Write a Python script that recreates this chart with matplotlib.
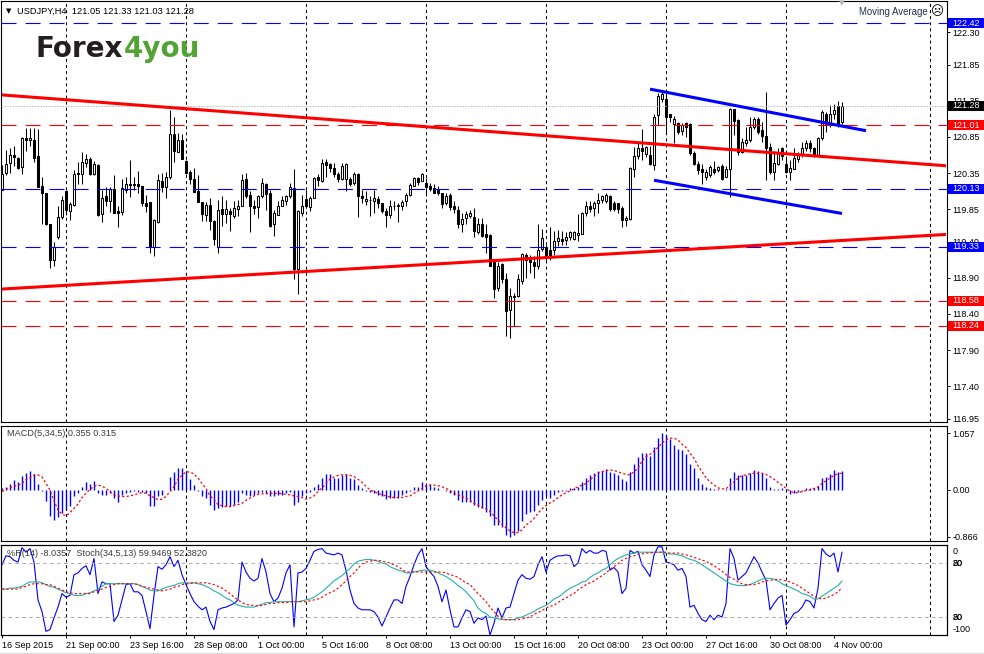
import numpy as np
import matplotlib
matplotlib.use("Agg")
import matplotlib.pyplot as plt
from matplotlib.patches import Rectangle
from matplotlib.lines import Line2D
from matplotlib.transforms import blended_transform_factory

plt.rcParams['font.family'] = ['Liberation Sans', 'DejaVu Sans']
plt.rcParams['lines.scale_dashes'] = False

W, H = 984, 654

# ---- USDJPY H4 candles (bar 0 = 16 Sep 2015 08:00) ----
opens = [
    120.12, 120.35, 120.49, 120.60, 120.56, 120.43, 120.83, 120.81, 120.81, 120.58,
    120.17, 120.07, 119.64, 119.15, 119.47, 119.74, 120.10, 119.83, 119.91, 120.35,
    120.34, 120.49, 120.54, 120.34, 120.46, 119.78, 120.03, 119.96, 120.13, 119.82,
    119.81, 120.12, 120.20, 120.20, 120.20, 120.17, 119.93, 119.95, 119.32, 119.67,
    120.24, 120.16, 120.30, 120.89, 120.64, 120.81, 120.51, 120.37, 120.27, 120.10,
    119.95, 119.77, 119.91, 119.68, 119.33, 119.85, 119.78, 119.83, 119.76, 119.85,
    119.89, 120.27, 120.05, 119.90, 119.88, 120.03, 120.20, 120.07, 119.64, 119.77,
    119.90, 119.96, 120.03, 120.14, 119.02, 119.80, 119.99, 119.88, 120.01, 120.29,
    120.24, 120.50, 120.47, 120.42, 120.34, 120.27, 120.27, 120.27, 120.21, 120.33,
    120.03, 119.96, 119.97, 119.96, 119.99, 119.93, 119.82, 119.77, 119.89, 119.90,
    119.90, 119.96, 120.04, 120.17, 120.28, 120.24, 120.21, 120.17, 120.14, 120.12,
    120.07, 119.93, 120.04, 119.90, 119.84, 119.65, 119.73, 119.75, 119.74, 119.53,
    119.65, 119.50, 119.49, 119.16, 118.76, 119.09, 118.89, 118.45, 118.64, 118.65,
    118.85, 119.22, 119.16, 119.12, 119.07, 119.30, 119.32, 119.29, 119.29, 119.41,
    119.44, 119.43, 119.47, 119.44, 119.49, 119.51, 119.79, 119.89, 119.87, 119.93,
    119.97, 119.96, 120.03, 119.94, 119.94, 119.87, 119.70, 119.71, 120.41, 120.58,
    120.69, 120.61, 120.60, 120.46, 121.15, 121.38, 121.38, 121.16, 121.03, 121.04,
    120.93, 121.04, 121.03, 120.62, 120.48, 120.41, 120.30, 120.32, 120.41, 120.39,
    120.44, 120.30, 120.41, 121.23, 121.08, 120.64, 120.77, 120.80, 120.99, 121.10,
    120.94, 120.86, 120.71, 120.36, 120.48, 120.69, 120.48, 120.36, 120.41, 120.55,
    120.60, 120.69, 120.76, 120.69, 120.60, 120.83, 121.17, 121.04, 121.17, 121.27,
    121.05]

highs = [
    120.46, 120.67, 120.70, 120.72, 120.57, 120.85, 120.97, 120.97, 120.97, 120.96,
    120.30, 120.07, 119.64, 119.40, 119.90, 120.03, 120.11, 119.95, 120.39, 120.50,
    120.64, 120.61, 120.57, 120.52, 120.47, 120.11, 120.16, 120.16, 120.32, 119.90,
    120.27, 120.29, 120.53, 120.29, 120.38, 120.17, 120.04, 119.95, 119.72, 120.34,
    120.35, 120.37, 121.22, 121.13, 120.90, 120.89, 120.53, 120.39, 120.42, 120.32,
    119.95, 119.95, 120.01, 119.70, 119.98, 120.03, 119.98, 119.86, 119.96, 119.98,
    120.33, 120.35, 120.10, 119.98, 120.05, 120.28, 120.21, 120.12, 119.84, 119.96,
    120.03, 120.05, 120.21, 120.40, 119.84, 120.05, 120.12, 120.03, 120.30, 120.33,
    120.54, 120.55, 120.49, 120.49, 120.37, 120.49, 120.49, 120.30, 120.37, 120.35,
    120.12, 120.10, 120.03, 120.12, 120.03, 119.94, 119.87, 119.98, 119.96, 119.94,
    119.98, 120.07, 120.21, 120.30, 120.30, 120.35, 120.28, 120.21, 120.20, 120.17,
    120.08, 120.08, 120.08, 119.96, 119.89, 119.80, 119.82, 119.84, 119.87, 119.73,
    119.73, 119.64, 119.50, 119.16, 119.12, 119.11, 118.97, 118.76, 118.69, 118.95,
    119.25, 119.25, 119.22, 119.20, 119.65, 119.57, 119.36, 119.61, 119.55, 119.56,
    119.55, 119.53, 119.55, 119.55, 119.78, 119.81, 119.96, 119.96, 119.96, 120.08,
    120.05, 120.08, 120.04, 119.96, 119.94, 119.89, 119.76, 120.43, 120.71, 120.76,
    120.96, 120.73, 120.73, 121.16, 121.45, 121.47, 121.45, 121.17, 121.14, 121.06,
    121.04, 121.06, 121.04, 120.66, 120.52, 120.48, 120.41, 120.46, 120.52, 120.44,
    120.48, 120.44, 121.25, 121.24, 121.09, 120.83, 120.99, 121.12, 121.13, 121.13,
    121.06, 121.47, 120.76, 120.66, 120.69, 120.71, 120.57, 120.53, 120.69, 120.64,
    120.78, 120.80, 120.81, 120.71, 120.85, 121.22, 121.19, 121.29, 121.31, 121.35,
    121.33]

lows = [
    120.12, 120.32, 120.35, 120.44, 120.41, 120.33, 120.66, 120.73, 120.50, 120.16,
    119.65, 119.63, 119.04, 119.06, 119.44, 119.72, 119.77, 119.70, 119.90, 120.20,
    120.20, 120.43, 120.32, 120.32, 119.75, 119.67, 119.90, 119.81, 119.80, 119.60,
    119.77, 120.08, 120.02, 120.11, 120.07, 119.90, 119.81, 119.24, 119.20, 119.66,
    120.09, 120.00, 120.27, 120.50, 120.64, 120.55, 120.34, 120.20, 120.09, 119.95,
    119.68, 119.68, 119.56, 119.35, 119.25, 119.62, 119.66, 119.55, 119.73, 119.75,
    119.89, 120.01, 119.54, 119.78, 119.73, 120.01, 119.84, 119.61, 119.48, 119.77,
    119.89, 119.91, 120.00, 118.88, 118.67, 119.75, 119.86, 119.82, 120.00, 120.17,
    120.23, 120.30, 120.37, 120.30, 120.22, 120.26, 120.10, 120.17, 120.19, 119.74,
    119.93, 119.91, 119.75, 119.80, 119.86, 119.80, 119.61, 119.73, 119.84, 119.67,
    119.84, 119.89, 120.03, 120.17, 120.19, 120.24, 120.04, 120.10, 120.07, 120.05,
    119.87, 119.91, 119.84, 119.80, 119.59, 119.53, 119.64, 119.73, 119.47, 119.50,
    119.47, 119.25, 119.06, 118.62, 118.72, 118.83, 118.09, 118.07, 118.23, 118.64,
    118.81, 118.90, 118.97, 118.90, 119.02, 119.27, 119.15, 119.15, 119.22, 119.34,
    119.36, 119.36, 119.43, 119.43, 119.41, 119.50, 119.76, 119.81, 119.75, 119.80,
    119.94, 119.94, 119.82, 119.82, 119.80, 119.61, 119.62, 119.70, 120.30, 120.55,
    120.53, 120.57, 120.46, 120.39, 121.01, 121.33, 120.89, 121.06, 120.76, 120.89,
    120.87, 120.85, 120.60, 120.46, 120.34, 120.20, 120.25, 120.30, 120.34, 120.36,
    120.25, 120.29, 120.02, 120.87, 120.60, 120.62, 120.73, 120.78, 120.96, 120.89,
    120.78, 120.26, 120.34, 120.25, 120.46, 120.53, 120.35, 120.25, 120.40, 120.50,
    120.57, 120.66, 120.64, 120.57, 120.58, 120.81, 120.92, 120.99, 121.09, 120.99,
    121.03]

closes = [
    120.34, 120.48, 120.60, 120.57, 120.42, 120.84, 120.80, 120.83, 120.56, 120.16,
    120.07, 119.64, 119.15, 119.33, 119.74, 119.98, 119.84, 119.92, 120.34, 120.33,
    120.50, 120.55, 120.33, 120.47, 119.77, 120.01, 119.96, 120.13, 119.80, 119.80,
    120.14, 120.20, 120.18, 120.18, 120.17, 119.93, 119.90, 119.32, 119.70, 120.25,
    120.16, 120.29, 120.89, 120.65, 120.81, 120.55, 120.35, 120.27, 120.09, 119.95,
    119.78, 119.91, 119.68, 119.44, 119.84, 119.78, 119.85, 119.78, 119.87, 119.90,
    120.26, 120.03, 119.89, 119.86, 120.03, 120.21, 120.06, 119.62, 119.80, 119.89,
    119.97, 120.03, 120.16, 119.02, 119.82, 119.90, 119.89, 120.01, 120.28, 120.26,
    120.49, 120.46, 120.42, 120.33, 120.27, 120.45, 120.47, 120.20, 120.33, 120.03,
    120.01, 119.99, 119.97, 120.01, 119.94, 119.82, 119.77, 119.90, 119.90, 119.90,
    119.95, 120.04, 120.18, 120.28, 120.22, 120.33, 120.16, 120.13, 120.08, 120.08,
    119.92, 120.03, 119.88, 119.85, 119.64, 119.72, 119.78, 119.80, 119.55, 119.64,
    119.48, 119.47, 119.06, 118.74, 119.07, 118.88, 118.44, 118.65, 118.65, 118.88,
    119.23, 119.15, 119.12, 119.06, 119.29, 119.45, 119.18, 119.20, 119.41, 119.45,
    119.41, 119.46, 119.53, 119.53, 119.52, 119.79, 119.90, 119.85, 119.93, 119.97,
    120.03, 120.04, 119.85, 119.85, 119.85, 119.70, 119.73, 120.42, 120.58, 120.69,
    120.66, 120.71, 120.47, 121.13, 121.42, 121.44, 121.13, 121.12, 121.10, 120.92,
    121.02, 120.99, 120.62, 120.48, 120.39, 120.36, 120.36, 120.43, 120.36, 120.43,
    120.27, 120.41, 121.24, 121.07, 120.64, 120.78, 120.81, 120.99, 121.10, 120.92,
    120.86, 120.69, 120.36, 120.49, 120.64, 120.58, 120.36, 120.42, 120.56, 120.61,
    120.69, 120.76, 120.69, 120.60, 120.83, 121.19, 121.03, 121.17, 121.22, 121.02,
    121.28]

# ---- MACD(5,34,5) ----
macd_main = [
    0.03, 0.06, 0.12, 0.19, 0.15, 0.26, 0.31, 0.35, 0.29, 0.11,
    -0.01, -0.20, -0.49, -0.56, -0.51, -0.43, -0.37, -0.30, -0.12, -0.06,
    0.06, 0.14, 0.11, 0.17, -0.06, -0.10, -0.10, -0.06, -0.15, -0.22,
    -0.10, -0.06, -0.03, -0.01, -0.03, -0.03, -0.06, -0.30, -0.30, -0.12,
    -0.09, 0.00, 0.25, 0.34, 0.41, 0.40, 0.31, 0.20, 0.09, -0.01,
    -0.12, -0.15, -0.27, -0.38, -0.34, -0.31, -0.30, -0.30, -0.28, -0.23,
    -0.06, -0.09, -0.12, -0.09, -0.06, -0.03, -0.06, -0.12, -0.12, -0.10,
    -0.09, -0.06, -0.03, -0.28, -0.23, -0.12, -0.06, -0.03, 0.06, 0.11,
    0.23, 0.29, 0.29, 0.23, 0.22, 0.27, 0.29, 0.23, 0.20, 0.09,
    0.03, -0.01, -0.03, -0.06, -0.09, -0.12, -0.17, -0.14, -0.15, -0.14,
    -0.10, -0.06, -0.01, 0.06, 0.06, 0.14, 0.09, 0.11, 0.06, 0.04,
    0.00, -0.01, -0.06, -0.09, -0.19, -0.23, -0.22, -0.22, -0.28, -0.31,
    -0.34, -0.41, -0.48, -0.65, -0.65, -0.68, -0.83, -0.866, -0.83, -0.76,
    -0.58, -0.45, -0.40, -0.39, -0.28, -0.19, -0.12, -0.14, -0.09, -0.03,
    -0.01, -0.01, 0.04, 0.03, 0.06, 0.15, 0.23, 0.28, 0.31, 0.35,
    0.35, 0.39, 0.34, 0.31, 0.28, 0.20, 0.17, 0.34, 0.49, 0.61,
    0.68, 0.68, 0.63, 0.79, 0.96, 1.057, 1.02, 0.95, 0.83, 0.76,
    0.74, 0.66, 0.48, 0.40, 0.23, 0.12, 0.06, 0.04, 0.02, 0.01,
    0.00, 0.02, 0.23, 0.33, 0.28, 0.27, 0.28, 0.31, 0.37, 0.35,
    0.31, 0.23, 0.06, 0.01, 0.02, 0.03, 0.02, -0.08, -0.06, -0.03,
    -0.01, 0.03, 0.04, 0.03, 0.08, 0.23, 0.25, 0.29, 0.37, 0.34,
    0.355]

macd_signal = [
    -0.03, 0.01, 0.04, 0.07, 0.09, 0.12, 0.19, 0.23, 0.28, 0.28,
    0.24, 0.12, 0.00, -0.20, -0.37, -0.45, -0.48, -0.42, -0.34, -0.26,
    -0.14, -0.06, 0.01, 0.07, 0.09, 0.07, 0.03, -0.03, -0.09, -0.11,
    -0.12, -0.12, -0.11, -0.09, -0.07, -0.05, -0.06, -0.11, -0.14, -0.18,
    -0.17, -0.12, -0.03, 0.06, 0.20, 0.27, 0.34, 0.33, 0.30, 0.22,
    0.12, 0.03, -0.11, -0.17, -0.27, -0.29, -0.31, -0.31, -0.29, -0.27,
    -0.25, -0.19, -0.15, -0.11, -0.08, -0.07, -0.07, -0.06, -0.06, -0.06,
    -0.07, -0.08, -0.09, -0.11, -0.12, -0.14, -0.17, -0.15, -0.11, -0.03,
    0.04, 0.12, 0.20, 0.24, 0.27, 0.28, 0.28, 0.27, 0.25, 0.20,
    0.14, 0.07, 0.00, -0.03, -0.06, -0.09, -0.11, -0.13, -0.14, -0.14,
    -0.14, -0.12, -0.11, -0.06, -0.02, 0.03, 0.08, 0.09, 0.09, 0.08,
    0.06, 0.03, -0.01, -0.06, -0.09, -0.12, -0.15, -0.19, -0.25, -0.28,
    -0.33, -0.35, -0.40, -0.48, -0.56, -0.64, -0.70, -0.76, -0.79, -0.79,
    -0.74, -0.65, -0.60, -0.53, -0.43, -0.35, -0.29, -0.24, -0.20, -0.14,
    -0.09, -0.05, -0.02, 0.02, 0.06, 0.09, 0.12, 0.19, 0.25, 0.31,
    0.34, 0.36, 0.37, 0.36, 0.34, 0.31, 0.29, 0.28, 0.34, 0.40,
    0.54, 0.62, 0.66, 0.72, 0.79, 0.87, 0.93, 0.96, 0.96, 0.93,
    0.85, 0.79, 0.68, 0.59, 0.45, 0.34, 0.23, 0.15, 0.09, 0.04,
    0.02, 0.02, 0.09, 0.15, 0.22, 0.27, 0.28, 0.30, 0.31, 0.31,
    0.31, 0.29, 0.25, 0.20, 0.14, 0.09, 0.03, -0.02, -0.05, -0.05,
    -0.03, -0.01, 0.00, 0.03, 0.06, 0.12, 0.17, 0.22, 0.27, 0.30,
    0.315]

# ---- %R(14) and Stoch(34,5,13) ----
williams_r = [
    -22, -12, -13, -17, -19, -3, -8, -4, -19, -61,
    -74, -96, -94, -81, -69, -54, -58, -56, -33, -31,
    -26, -23, -33, -15, -54, -41, -43, -43, -85, -78,
    -61, -44, -43, -52, -52, -56, -74, -93, -56, -24,
    -27, -22, -13, -24, -17, -33, -44, -54, -63, -68,
    -72, -69, -85, -94, -72, -70, -69, -67, -65, -61,
    -19, -30, -37, -40, -37, -15, -30, -54, -63, -59,
    -48, -31, -22, -91, -31, -30, -26, -17, -7, -5,
    -4, -9, -10, -11, -9, -11, -28, -50, -65, -70,
    -72, -72, -72, -74, -80, -90, -80, -70, -61, -61,
    -65, -46, -35, -22, -11, -4, -24, -30, -35, -46,
    -63, -50, -72, -91, -91, -81, -72, -74, -87, -81,
    -83, -79, -100, -87, -70, -81, -70, -69, -54, -39,
    -33, -37, -38, -35, -22, -13, -30, -17, -14, -12,
    -12, -11, -12, -24, -20, -4, -9, -6, -9, -9,
    -6, -7, -28, -25, -30, -54, -48, -6, -9, -7,
    -22, -28, -35, -11, -2, -2, -19, -20, -22, -28,
    -26, -35, -69, -67, -76, -83, -85, -78, -83, -78,
    -80, -65, -4, -15, -39, -35, -31, -22, -13, -20,
    -30, -39, -72, -65, -59, -56, -89, -83, -76, -74,
    -69, -61, -63, -70, -48, -4, -10, -13, -9, -30,
    -8.04]

stoch_main = [
    51, 51, 52, 52, 53, 54, 57, 59, 59, 59,
    58, 56, 54, 53, 51, 49, 47, 46, 44, 44,
    44, 46, 47, 49, 51, 54, 57, 57, 57, 57,
    57, 57, 57, 57, 56, 54, 52, 50, 49, 49,
    51, 53, 54, 55, 57, 58, 58, 58, 58, 57,
    56, 54, 52, 49, 47, 44, 41, 39, 36, 33,
    32, 31, 31, 31, 33, 34, 36, 36, 37, 37,
    37, 37, 37, 37, 37, 38, 39, 40, 42, 45,
    48, 52, 56, 60, 63, 66, 70, 74, 79, 82,
    83, 84, 84, 83, 82, 80, 79, 76, 74, 72,
    71, 69, 69, 70, 71, 72, 72, 72, 71, 69,
    67, 65, 62, 59, 55, 52, 48, 43, 38, 30,
    26, 24, 20, 19, 18, 17, 17, 17, 17, 19,
    20, 22, 24, 26, 29, 31, 33, 36, 40, 42,
    45, 49, 52, 54, 56, 59, 60, 64, 67, 69,
    72, 74, 78, 82, 85, 87, 89, 90, 91, 92,
    92, 92, 92, 92, 92, 92, 91, 90, 90, 89,
    88, 86, 84, 83, 81, 78, 75, 72, 69, 66,
    63, 60, 57, 56, 55, 55, 55, 56, 58, 60,
    62, 63, 63, 62, 60, 57, 55, 53, 51, 49,
    46, 45, 43, 40, 40, 43, 46, 49, 52, 55,
    59.95]

stoch_signal = [
    51, 51, 51, 51, 51, 53, 54, 56, 57, 57,
    57, 56, 56, 54, 52, 50, 48, 47, 46, 46,
    46, 46, 46, 48, 50, 51, 53, 54, 56, 57,
    57, 57, 57, 57, 56, 54, 53, 52, 51, 50,
    49, 50, 51, 53, 54, 56, 57, 57, 58, 58,
    58, 58, 57, 56, 54, 52, 49, 46, 42, 39,
    36, 34, 33, 33, 32, 33, 34, 35, 35, 36,
    36, 36, 37, 37, 37, 37, 37, 38, 39, 40,
    42, 45, 47, 49, 52, 56, 60, 65, 69, 74,
    79, 81, 82, 83, 83, 82, 81, 80, 78, 76,
    73, 70, 70, 70, 70, 70, 70, 70, 70, 70,
    70, 69, 67, 66, 64, 61, 58, 56, 51, 46,
    42, 37, 31, 26, 21, 18, 17, 17, 17, 17,
    18, 19, 20, 23, 25, 27, 30, 32, 33, 36,
    39, 41, 44, 46, 50, 53, 56, 58, 60, 63,
    66, 69, 73, 76, 79, 83, 85, 87, 88, 90,
    90, 91, 91, 92, 92, 92, 92, 91, 91, 91,
    90, 89, 88, 86, 85, 83, 82, 79, 77, 74,
    71, 67, 64, 62, 59, 57, 56, 56, 56, 57,
    59, 60, 61, 61, 62, 61, 60, 59, 57, 55,
    52, 49, 46, 43, 41, 40, 41, 43, 45, 48,
    52.38]

# time axis
tick_bars = [0, 16, 32, 48, 64, 80, 96, 112, 128, 144, 160, 176, 192, 208]
tick_labels = ['16 Sep 2015', '21 Sep 00:00', '23 Sep 16:00', '28 Sep 08:00',
               '1 Oct 00:00', '5 Oct 16:00', '8 Oct 08:00', '13 Oct 00:00',
               '15 Oct 16:00', '20 Oct 08:00', '23 Oct 00:00', '27 Oct 16:00',
               '30 Oct 08:00', '4 Nov 00:00']
grid_bars = [16, 46, 76, 106, 136, 166, 196, 232]

# drawn objects: horizontal levels and trend lines (bar, price, bar, price)
blue_levels = [122.42, 120.13, 119.33]
red_levels = [121.01, 118.58, 118.24]
last_price = 121.28
red_trend_hi = (0, 121.43, 236, 120.45)
red_trend_lo = (0, 118.745, 236, 119.50)
blue_chan_hi = (162, 121.51, 216, 120.935)
blue_chan_lo = (163, 120.25, 210, 119.79)

price_ticks = [122.30, 121.85, 121.35, 120.85, 120.35, 119.85,
               119.40, 118.90, 118.40, 117.90, 117.40, 116.95]

# ---------------------------------------------------------------
n = min(len(opens), len(highs), len(lows), len(closes))
o = np.array(opens[:n]); h = np.array(highs[:n])
l = np.array(lows[:n]); c = np.array(closes[:n])
idx = np.arange(n)

BLUE = '#0000ff'
RED = '#ff0000'
FS = 6.5
XMIN, XMAX = -0.25, 236.25

fig = plt.figure(figsize=(W / 100, H / 100), dpi=100)
fig.patch.set_facecolor('white')


def px_axes(left, top, right, bottom):
    return fig.add_axes([left / W, 1 - bottom / H, (right - left) / W, (bottom - top) / H])


def ftext(x, y, s, **kw):
    return fig.text(x / W, 1 - y / H, s, **kw)


ax = px_axes(1, 1, 947, 422)
ax_m = px_axes(1, 426, 947, 541)
ax_s = px_axes(1, 545, 947, 635)

for a in (ax, ax_m, ax_s):
    a.set_xlim(XMIN, XMAX)
    for sp in a.spines.values():
        sp.set_color('black')
        sp.set_linewidth(0.8)
    for gb in grid_bars:
        a.axvline(gb, color='black', lw=0.75, ls=(0, (2.2, 2.2)), zorder=1)

# ---- main price panel ----
ax.set_ylim(116.906, 122.729)
ax.vlines(idx, l, h, color='black', lw=0.75, zorder=2)
up = c >= o
body_lo = np.minimum(o, c)
body_h = np.maximum(np.abs(c - o), 0.004)
ax.bar(idx, body_h, bottom=body_lo, width=0.62,
       color=np.where(up, 'white', 'black'), edgecolor='black', linewidth=0.75, zorder=3)

for lv in blue_levels:
    ax.axhline(lv, color=BLUE, lw=0.8, ls=(0, (10.8, 6.5)), zorder=4)
for lv in red_levels:
    ax.axhline(lv, color=RED, lw=0.8, ls=(0, (10.8, 6.5)), zorder=4)
ax.axhline(last_price, color='#b4b4b4', lw=0.7, ls=(0, (1, 1)), zorder=4)

for (x0, y0, x1, y1) in (red_trend_hi, red_trend_lo):
    ax.plot([x0, x1], [y0, y1], color=RED, lw=2.2, solid_capstyle='butt', zorder=5)
for (x0, y0, x1, y1) in (blue_chan_hi, blue_chan_lo):
    ax.plot([x0, x1], [y0, y1], color=BLUE, lw=2.2, solid_capstyle='butt', zorder=5)

ax.set_xticks([])
ax.yaxis.tick_right()
ax.set_yticks(price_ticks)
ax.set_yticklabels([f'{p:.2f}' for p in price_ticks])
ax.tick_params(axis='y', direction='out', length=2.2, width=0.7, pad=1.6,
               labelsize=FS, colors='black')

# coloured price boxes on the scale (they cover parts of 121.35 and 119.40, as in MT4)
trans = blended_transform_factory(ax.transAxes, ax.transData)
box_w = 36 / 946
box_h = 10 / 72.3
boxes = [(122.42, BLUE), (121.28, 'black'), (121.01, RED), (120.13, BLUE),
         (119.33, BLUE), (118.58, RED), (118.24, RED)]
for p, col in boxes:
    ax.add_patch(Rectangle((1.0012, p - box_h / 2), box_w, box_h, transform=trans,
                           facecolor=col, edgecolor='none', clip_on=False, zorder=6))
    ax.text(1.0012 + 4 / 946, p, f'{p:.2f}', transform=trans, color='white', fontsize=FS,
            va='center', ha='left', clip_on=False, zorder=7)

# ---- MACD panel ----
ax_m.set_ylim(-0.946, 1.187)
nm = min(n, len(macd_main), len(macd_signal))
ax_m.vlines(idx[:nm], 0, macd_main[:nm], color=BLUE, lw=1.0, zorder=2)
ax_m.plot(idx[:nm], macd_signal[:nm], color=RED, lw=0.9, ls=(0, (1.6, 1.6)), zorder=3)
ax_m.set_xticks([])
ax_m.yaxis.tick_right()
ax_m.set_yticks([1.057, 0.0, -0.866])
ax_m.set_yticklabels(['1.057', '0.00', '-0.866'])
ax_m.tick_params(axis='y', direction='out', length=2.2, width=0.7, pad=1.6,
                 labelsize=FS, colors='black')

# ---- %R / Stochastic panel ----
ax_s.set_ylim(-100, 0)
ns = min(n, len(williams_r))
ax_s.plot(idx[:ns], williams_r[:ns], color=BLUE, lw=0.8, zorder=3)
ax_s.set_yticks([])
ax_st = ax_s.twinx()
ax_st.set_ylim(0, 100)
ax_st.set_xlim(XMIN, XMAX)
ax_st.set_yticks([])
for lv in (80, 20):
    ax_st.axhline(lv, color='#a8a8a8', lw=0.7, ls=(0, (2.5, 2.5)), zorder=1)
nk = min(n, len(stoch_main), len(stoch_signal))
ax_st.plot(idx[:nk], stoch_main[:nk], color='#20b2aa', lw=0.8, zorder=3)
ax_st.plot(idx[:nk], stoch_signal[:nk], color=RED, lw=0.85, ls=(0, (1.6, 1.6)), zorder=4)

ax_s.set_xticks(tick_bars)
ax_s.set_xticklabels(tick_labels)
ax_s.tick_params(axis='x', direction='out', length=2.5, width=0.7, pad=1.5,
                 labelsize=FS, colors='black')
for lbl in ax_s.get_xticklabels():
    lbl.set_ha('left')

# scale labels of the oscillator window (levels of both indicators drawn on top of each other)
ftext(953, 551, '0', fontsize=FS, va='center', ha='left')
ftext(953, 563, '80', fontsize=FS, va='center', ha='left')
ftext(953, 563, '20', fontsize=FS, va='center', ha='left')
ftext(953, 617, '20', fontsize=FS, va='center', ha='left')
ftext(953, 617, '80', fontsize=FS, va='center', ha='left')
ftext(953, 629, '-100', fontsize=FS, va='center', ha='left')

# ---- texts ----
ftext(6, 11, '\u25bc', fontsize=5, va='center', ha='left', family=['DejaVu Sans'])
ftext(17, 11, 'USDJPY,H4  121.05 121.33 121.03 121.28', fontsize=6.7, va='center', ha='left')
ftext(842, 3, '\u25bc', fontsize=5, va='center', ha='center', color='#b0b0b0',
      family=['DejaVu Sans'])
ftext(859, 12, 'Moving Average', fontsize=6.9, va='center', ha='left', color='#243050')
ftext(937, 12, '\u2639', fontsize=9, va='center', ha='center', color='black',
      family=['DejaVu Sans'])
ftext(7, 434, 'MACD(5,34,5) 0.355 0.315', fontsize=6.6, va='center', ha='left', color='#3a3a3a')
ftext(7, 554, '%R(14) -8.0357  Stoch(34,5,13) 59.9469 52.3820', fontsize=6.6,
      va='center', ha='left', color='#3a3a3a')

# logo: "Forex" then "4you" right after it
logo1 = ftext(36, 57, 'Forex', fontsize=20, fontweight='bold', va='baseline', ha='left',
              color='#231f20', family=['DejaVu Sans'])
renderer = fig.canvas.get_renderer()
bb = logo1.get_window_extent(renderer)
fig.text(bb.x1 / W + 0.5 / W, 1 - 57 / H, '4you', fontsize=20, fontweight='bold',
         va='baseline', ha='left', color='#52a334', family=['DejaVu Sans'])

fig.add_artist(Line2D([0, 1], [1 - 653 / H, 1 - 653 / H], color='#dcdcdc', lw=0.8))

fig.savefig('out.png', dpi=100, facecolor='white')
